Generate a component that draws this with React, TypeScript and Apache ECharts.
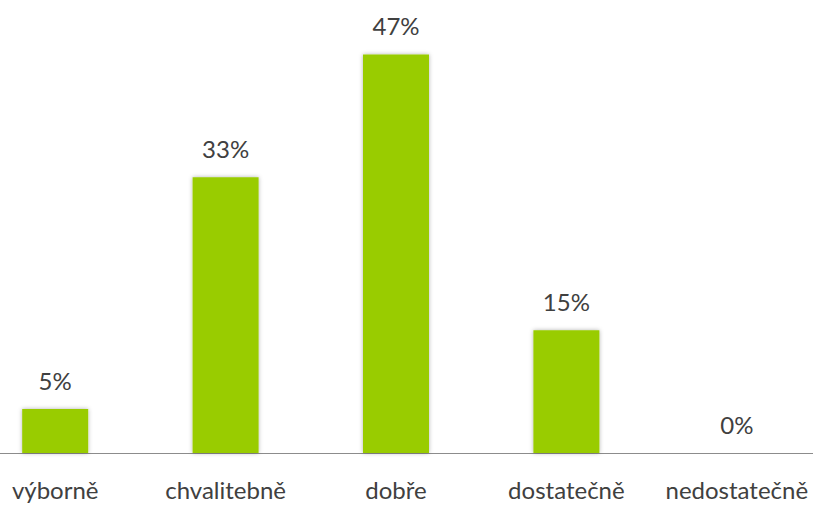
import React, { useEffect, useRef } from "react";
import * as echarts from "echarts";

const categories = ["výborně", "chvalitebně", "dobře", "dostatečně", "nedostatečně"];
const shares = [5.2, 32.6, 47.1, 14.5, 0];

export default function App() {
  const ref = useRef<HTMLDivElement>(null);
  useEffect(() => {
    document.body.style.margin = "0";
    const chart = echarts.init(ref.current!, null, { renderer: "svg" });
    chart.setOption({
      animation: false,
      textStyle: { fontFamily: "Lato" },
      grid: { left: 0, right: 0, top: 30, bottom: 54, containLabel: false },
      xAxis: {
        type: "category",
        data: categories,
        axisLine: { show: true, lineStyle: { color: "#8c8c8c", width: 1 } },
        axisTick: { show: false },
        axisLabel: { color: "#404040", fontSize: 24, fontFamily: "Lato", margin: 24, interval: 0 },
      },
      yAxis: {
        type: "value",
        min: 0,
        max: 50,
        show: false,
        splitLine: { show: false },
      },
      series: [
        {
          type: "bar",
          data: shares,
          barWidth: 66,
          itemStyle: {
            color: "#99cc00",
            shadowBlur: 4,
            shadowColor: "rgba(0,0,0,0.3)",
            shadowOffsetX: 0,
            shadowOffsetY: 0,
          },
          label: {
            show: true,
            position: "top",
            distance: 17,
            color: "#404040",
            fontSize: 24,
            fontFamily: "Lato",
            formatter: (p: any) => Math.round(p.value) + "%",
          },
        },
      ],
    });
    return () => chart.dispose();
  }, []);
  return (
    <div style={{ position: "relative", width: 813, height: 507, overflow: "hidden" }}>
      <div ref={ref} style={{ position: "absolute", left: -30, top: 0, width: 852, height: 507 }} />
    </div>
  );
}
